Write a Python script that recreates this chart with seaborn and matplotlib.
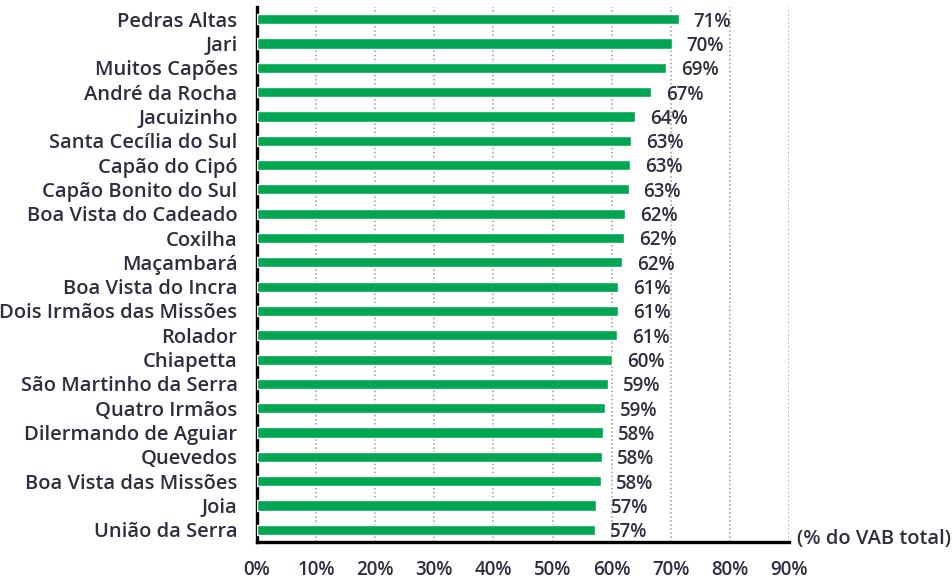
import numpy as np
import pandas as pd
import seaborn as sns
import matplotlib.pyplot as plt

# 1. Dados: participação no VAB total (%)
municipios = ["Pedras Altas", "Jari", "Muitos Capões", "André da Rocha", "Jacuizinho",
              "Santa Cecília do Sul", "Capão do Cipó", "Capão Bonito do Sul",
              "Boa Vista do Cadeado", "Coxilha", "Maçambará", "Boa Vista do Incra",
              "Dois Irmãos das Missões", "Rolador", "Chiapetta", "São Martinho da Serra",
              "Quatro Irmãos", "Dilermando de Aguiar", "Quevedos", "Boa Vista das Missões",
              "Joia", "União da Serra"]
valores = [71.4, 70.2, 69.2, 66.7, 64.0, 63.3, 63.1, 62.9, 62.3, 62.1, 61.8, 61.1,
           61.1, 60.9, 60.1, 59.4, 58.9, 58.5, 58.4, 58.2, 57.4, 57.2]
rotulos = ["71%", "70%", "69%", "67%", "64%", "63%", "63%", "63%", "62%", "62%", "62%",
           "61%", "61%", "61%", "60%", "59%", "59%", "58%", "58%", "58%", "57%", "57%"]
xticks = [0, 10, 20, 30, 40, 50, 60, 70, 80, 90]

df = pd.DataFrame({"municipio": municipios, "valor": valores})

# 2. Estilo
sns.set_theme(style="white")
plt.rcParams["font.family"] = ["Open Sans", "DejaVu Sans"]
plt.rcParams["font.weight"] = 600
cor_texto = "#2e2e40"

fig = plt.figure(figsize=(9.53, 5.79), dpi=100)
ax = fig.add_axes([257 / 953, 1 - 542 / 579, (789 - 257) / 953, (542 - 7) / 579])

# 3. Barras
sns.barplot(data=df, x="valor", y="municipio", orient="h", color="#00A651",
            saturation=1, width=0.42, ax=ax, zorder=3)

for i, (v, r) in enumerate(zip(valores, rotulos)):
    ax.text(v + 2.5, i + 0.1, r, va="center", ha="left", fontsize=13.5, color=cor_texto)

# 4. Eixos
ax.set_xlim(0, 90)
ax.set_ylim(len(municipios) - 0.5, -0.5)
ax.set_xticks(xticks)
ax.set_xticklabels([f"{t}%" for t in xticks], fontsize=13.5, color=cor_texto)
ax.tick_params(axis="x", length=5, width=2, color="black", pad=8, direction="out")
ax.tick_params(axis="y", which="major", length=0, labelsize=14.5, labelcolor=cor_texto, pad=14)
ax.set_yticks(np.arange(-0.5, len(municipios)), minor=True)
ax.tick_params(axis="y", which="minor", length=5, width=2, color="black", direction="out")
ax.set_xlabel("")
ax.set_ylabel("")

ax.xaxis.grid(True, linestyle=":", color="#9a9a9a", linewidth=1.1, zorder=0)
ax.set_axisbelow(True)
sns.despine(ax=ax, top=True, right=True)
for s in ["left", "bottom"]:
    ax.spines[s].set_color("black")
    ax.spines[s].set_linewidth(2.4)

ax.text(1.015, 0.005, "(% do VAB total)", transform=ax.transAxes, ha="left", va="center",
        fontsize=14.5, color=cor_texto)

fig.savefig("out.png", dpi=100)
